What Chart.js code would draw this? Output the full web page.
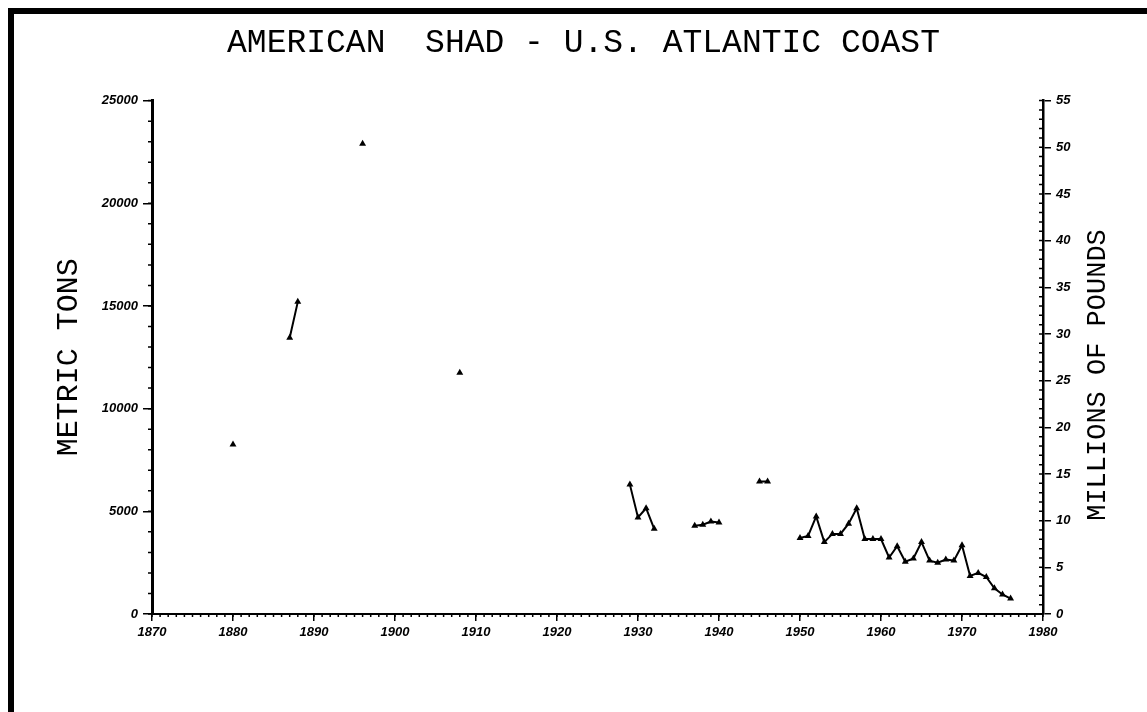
<!DOCTYPE html>
<html>
<head>
<meta charset="utf-8">
<script src="https://cdn.jsdelivr.net/npm/chart.js@4"></script>
<style>
  html, body { margin: 0; padding: 0; background: #fff; }
  #frame {
    position: absolute; left: 8px; top: 8px; width: 1139px; height: 704px;
    border-top: 6px solid #000; border-left: 6px solid #000; box-sizing: border-box;
  }
  #wrap { position: absolute; left: 0; top: 0; width: 1147px; height: 712px; }
</style>
</head>
<body>
<div id="frame"></div>
<div id="wrap"><canvas id="chart" width="1147" height="712"></canvas></div>
<script>
// shad landings, metric tons
const years = [1880, 1887, 1888, 1896, 1908,
  1929, 1930, 1931, 1932, 1937, 1938, 1939, 1940, 1945, 1946,
  1950, 1951, 1952, 1953, 1954, 1955, 1956, 1957, 1958, 1959,
  1960, 1961, 1962, 1963, 1964, 1965, 1966, 1967, 1968, 1969,
  1970, 1971, 1972, 1973, 1974, 1975, 1976];
const tons = [8250, 13450, 15200, 22900, 11750,
  6300, 4700, 5150, 4150, 4300, 4350, 4500, 4450, 6450, 6450,
  3700, 3800, 4750, 3500, 3900, 3900, 4400, 5150, 3650, 3650,
  3650, 2750, 3300, 2550, 2700, 3500, 2600, 2500, 2650, 2600,
  3350, 1850, 2000, 1800, 1250, 950, 750];

const yearTicks = [1870, 1880, 1890, 1900, 1910, 1920, 1930, 1940, 1950, 1960, 1970, 1980];
const tonTicks = [0, 5000, 10000, 15000, 20000, 25000];
const poundTicks = [0, 5, 10, 15, 20, 25, 30, 35, 40, 45, 50, 55];

// break the line where years are missing
const points = [];
years.forEach((yr, i) => {
  if (i > 0 && yr - years[i - 1] > 1) {
    points.push({ x: (yr + years[i - 1]) / 2, y: null });
  }
  points.push({ x: yr, y: tons[i] });
});

const tickFont = { family: "Liberation Sans", size: 13, weight: "bold", style: "italic" };
const monoFont = "Liberation Mono";

const minorTicks = {
  id: "minorTicks",
  afterDraw(chart) {
    const ctx = chart.ctx;
    const area = chart.chartArea;
    const x = chart.scales.x, y = chart.scales.y, y2 = chart.scales.y2;
    ctx.save();
    ctx.strokeStyle = "#000";
    ctx.lineWidth = 1.5;
    ctx.beginPath();
    for (let v = 1870; v <= 1980; v++) {
      const px = x.getPixelForValue(v);
      ctx.moveTo(px, area.bottom);
      ctx.lineTo(px, area.bottom + 3);
    }
    for (let v = 0; v <= 25000; v += 1000) {
      const py = y.getPixelForValue(v);
      ctx.moveTo(area.left, py);
      ctx.lineTo(area.left - 4, py);
    }
    for (let v = 0; v <= 55; v++) {
      const py = y2.getPixelForValue(v);
      ctx.moveTo(area.right, py);
      ctx.lineTo(area.right - 4, py);
    }
    ctx.stroke();
    // right axis title reads bottom to top
    ctx.translate(1098, 375);
    ctx.rotate(-Math.PI / 2);
    ctx.fillStyle = "#000";
    ctx.font = "27px " + monoFont;
    ctx.textAlign = "center";
    ctx.textBaseline = "middle";
    ctx.fillText("MILLIONS OF POUNDS", 0, 0);
    ctx.restore();
  },
};

new Chart(document.getElementById("chart"), {
  type: "line",
  data: {
    datasets: [
      {
        label: "American shad",
        data: points,
        borderColor: "#000",
        backgroundColor: "#000",
        borderWidth: 2,
        pointStyle: "triangle",
        pointRadius: 4,
        pointBorderWidth: 0,
        spanGaps: false,
        tension: 0,
      },
    ],
  },
  options: {
    responsive: false,
    animation: false,
    layout: { padding: { left: 20, right: 0, top: 0, bottom: 0 } },
    plugins: {
      legend: { display: false },
      tooltip: { enabled: false },
      title: {
        display: true,
        text: "AMERICAN  SHAD - U.S. ATLANTIC COAST",
        color: "#000",
        font: { family: monoFont, size: 33, weight: "normal" },
        padding: { top: 23, bottom: 38 },
      },
    },
    scales: {
      x: {
        type: "linear",
        min: 1870,
        max: 1980,
        afterBuildTicks: (s) => { s.ticks = yearTicks.map((v) => ({ value: v })); },
        afterFit: (s) => { s.height = 98; },
        border: { display: true, color: "#000", width: 2 },
        grid: { drawOnChartArea: false, drawTicks: true, tickLength: 7, color: "#000", lineWidth: 1.5 },
        ticks: { color: "#000", font: tickFont, padding: 4, maxRotation: 0, callback: (v) => String(v) },
      },
      y: {
        position: "left",
        min: 0,
        max: 25000,
        afterBuildTicks: (s) => { s.ticks = tonTicks.map((v) => ({ value: v })); },
        afterFit: (s) => { s.width = 132; },
        border: { display: true, color: "#000", width: 3 },
        grid: { drawOnChartArea: false, drawTicks: true, tickLength: 9, color: "#000", lineWidth: 1.5 },
        ticks: { color: "#000", font: tickFont, padding: 5, callback: (v) => String(v) },
        title: {
          display: true,
          text: "METRIC TONS",
          color: "#000",
          font: { family: monoFont, size: 30, weight: "normal" },
          padding: { top: 31, bottom: 0 },
        },
      },
      y2: {
        position: "right",
        min: 0,
        max: 55,
        afterBuildTicks: (s) => { s.ticks = poundTicks.map((v) => ({ value: v })); },
        afterFit: (s) => { s.width = 104; },
        border: { display: true, color: "#000", width: 2.5 },
        grid: { drawOnChartArea: false, drawTicks: true, tickLength: 8, color: "#000", lineWidth: 1.5 },
        ticks: { color: "#000", font: tickFont, padding: 5, callback: (v) => String(v) },
      },
    },
  },
  plugins: [minorTicks],
});
</script>
</body>
</html>
